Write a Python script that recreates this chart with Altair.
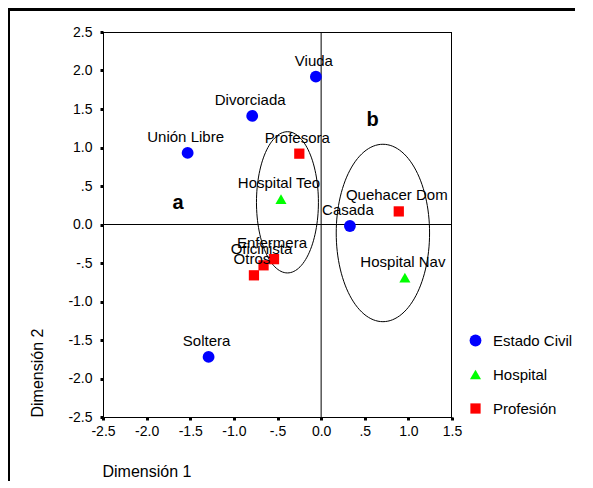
import altair as alt
import pandas as pd
import numpy as np

# ---- data ----
names = ["Viuda", "Divorciada", "Unión Libre", "Casada", "Soltera",
         "Hospital Teo", "Hospital Nav",
         "Profesora", "Quehacer Dom", "Enfermera", "Oficinista", "Otros"]
dim1 = [-0.06, -0.79, -1.53, 0.33, -1.29,
        -0.46, 0.96,
        -0.25, 0.89, -0.54, -0.66, -0.77]
dim2 = [1.92, 1.41, 0.93, -0.02, -1.72,
        0.33, -0.69,
        0.92, 0.17, -0.45, -0.53, -0.66]
groups = ["Estado Civil"] * 5 + ["Hospital"] * 2 + ["Profesión"] * 5

group_order = ["Estado Civil", "Hospital", "Profesión"]
group_colors = ["#0000FF", "#00FF00", "#FF0000"]
group_shapes = ["circle", "triangle-up", "square"]
group_sizes = [140, 105, 110]

x_ticks = [-2.5, -2.0, -1.5, -1.0, -0.5, 0.0, 0.5, 1.0, 1.5]
y_ticks = [-2.5, -2.0, -1.5, -1.0, -0.5, 0.0, 0.5, 1.0, 1.5, 2.0, 2.5]

# annotation ellipses (center x, center y, radius x, radius y)
ell_names = ["a", "b"]
ell_cx = [-0.386, 0.708]
ell_cy = [0.288, -0.11]
ell_rx = [0.355, 0.535]
ell_ry = [0.917, 1.152]

# annotation letters
letters = ["a", "b"]
letter_x = [-1.64, 0.59]
letter_y = [0.28, 1.36]

# ---- tables ----
pts = pd.DataFrame({"name": names, "d1": dim1, "d2": dim2, "group": groups})

rows = []
for n, cx, cy, rx, ry in zip(ell_names, ell_cx, ell_cy, ell_rx, ell_ry):
    for i, t in enumerate(np.linspace(0, 2 * np.pi, 121)):
        rows.append({"ell": n, "i": i, "d1": cx + rx * np.cos(t), "d2": cy + ry * np.sin(t)})
ell = pd.DataFrame(rows)

let = pd.DataFrame({"t": letters, "d1": letter_x, "d2": letter_y})

FONT = "Liberation Sans"
label_expr = ("datum.value == 0.5 ? '.5' : datum.value == -0.5 ? '-.5' : "
              "replace(format(datum.value, '.1f'), '\u2212', '-')")

xs = alt.Scale(domain=[-2.5, 1.5], nice=False, zero=False)
ys = alt.Scale(domain=[-2.5, 2.5], nice=False, zero=False)

x_axis = alt.Axis(values=x_ticks, labelExpr=label_expr, grid=False,
                  labelFlush=False, labelOverlap=False,
                  title="Dimensión 1", titleFont=FONT, titleFontSize=16,
                  titleFontWeight="normal", titleX=-1, titleY=54,
                  titleAlign="left", titleBaseline="middle", titleColor="#000",
                  labelFont=FONT, labelFontSize=14, labelColor="#000",
                  labelPadding=4, tickSize=3, tickWidth=3, tickColor="#000",
                  domainColor="#000", domainWidth=1)
y_axis = alt.Axis(values=y_ticks, labelExpr=label_expr, grid=False,
                  labelFlush=False, labelOverlap=False,
                  title="Dimensión 2", titleFont=FONT, titleFontSize=16,
                  titleFontWeight="normal", titleAngle=270, titleX=-66,
                  titleY=385, titleAlign="left", titleBaseline="middle",
                  titleColor="#000",
                  labelFont=FONT, labelFontSize=14, labelColor="#000",
                  labelPadding=8, tickSize=3, tickWidth=3, tickColor="#000",
                  domainColor="#000", domainWidth=1)

base_x = alt.X("d1:Q", scale=xs, axis=x_axis)
base_y = alt.Y("d2:Q", scale=ys, axis=y_axis)

zero_v = alt.Chart(pd.DataFrame({"v": [0.0]})).mark_rule(color="#000", strokeWidth=1).encode(
    x=alt.X("v:Q", scale=xs, axis=x_axis))
zero_h = alt.Chart(pd.DataFrame({"v": [0.0]})).mark_rule(color="#000", strokeWidth=1).encode(
    y=alt.Y("v:Q", scale=ys, axis=y_axis))

# plot frame: top and right edges (left and bottom are the axis lines)
frame_top = alt.Chart(pd.DataFrame({"k": [1]})).mark_rule(color="#000", strokeWidth=1).encode(
    x=alt.value(0), x2=alt.value(349), y=alt.value(0.5))
frame_right = alt.Chart(pd.DataFrame({"k": [1]})).mark_rule(color="#000", strokeWidth=1).encode(
    x=alt.value(348.5), y=alt.value(0), y2=alt.value(385))

ellipses = alt.Chart(ell).mark_line(color="#000", strokeWidth=1).encode(
    x=base_x, y=base_y, detail="ell:N", order="i:Q")

legend = alt.Legend(title=None, orient="none", legendX=365, legendY=301,
                    labelFont=FONT, labelFontSize=15, labelColor="#000",
                    labelOffset=10, rowPadding=18, symbolStrokeWidth=0,
                    symbolSize=120)

points = alt.Chart(pts).mark_point(filled=True, opacity=1).encode(
    x=base_x, y=base_y,
    color=alt.Color("group:N", scale=alt.Scale(domain=group_order, range=group_colors),
                    legend=legend),
    shape=alt.Shape("group:N", scale=alt.Scale(domain=group_order, range=group_shapes),
                    legend=legend),
    size=alt.Size("group:N", scale=alt.Scale(domain=group_order, range=group_sizes),
                  legend=None),
)

labels = alt.Chart(pts).mark_text(font=FONT, fontSize=15, color="#000",
                                  align="center", baseline="alphabetic",
                                  dx=-2, dy=-11).encode(
    x=base_x, y=base_y, text="name:N")

letter_marks = alt.Chart(let).mark_text(font=FONT, fontSize=20, fontWeight="bold",
                                        color="#000", align="center",
                                        baseline="middle").encode(
    x=base_x, y=base_y, text="t:N")

# outer frame of the original picture (left and top edges only)
border_v = alt.Chart(pd.DataFrame({"k": [1]})).mark_rect(color="#000", strokeWidth=0).encode(
    x=alt.value(-96), x2=alt.value(-93), y=alt.value(-24), y2=alt.value(462))
border_h = alt.Chart(pd.DataFrame({"k": [1]})).mark_rect(color="#000", strokeWidth=0).encode(
    x=alt.value(-96), x2=alt.value(472), y=alt.value(-24), y2=alt.value(-21))

chart = alt.layer(zero_v, zero_h, frame_top, frame_right, ellipses, points, labels,
                  letter_marks, border_v, border_h).properties(
    width=349, height=385,
    background="white",
    autosize=alt.AutoSizeParams(type="none"),
    padding={"left": 95, "top": 24, "right": 125, "bottom": 64},
).configure_view(stroke="transparent", strokeWidth=0)

chart.save("out.html", embed_options={"renderer": "svg", "actions": False})
